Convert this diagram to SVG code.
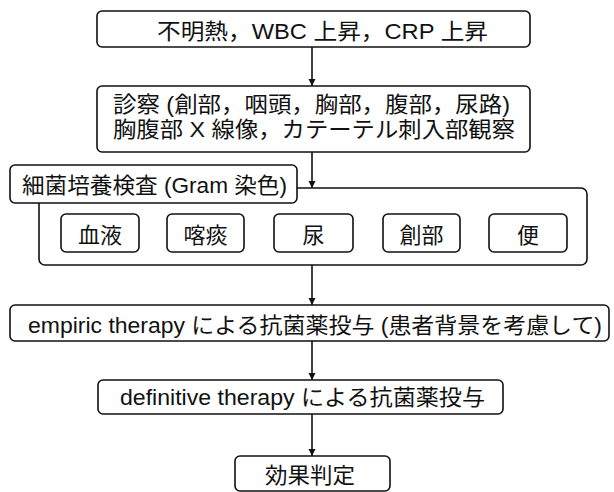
<svg xmlns="http://www.w3.org/2000/svg" width="614" height="492" viewBox="0 0 614 492">
<style>
.box{fill:#fff;stroke:#111;stroke-width:1.6}
.t{font-family:"Liberation Sans","Noto Sans CJK JP",sans-serif;font-size:22px;fill:#111}
.c{text-anchor:middle}
.ln{stroke:#111;stroke-width:1.6;fill:none}
</style>
<defs>
<marker id="ah" viewBox="0 0 10 10" refX="10" refY="5" markerWidth="7" markerHeight="9" markerUnits="userSpaceOnUse" orient="auto">
<path d="M0,0 L10,5 L0,10 Z" fill="#111"/>
</marker>
</defs>
<rect width="614" height="492" fill="#fff"/>
<g id="connectors">
<line class="ln" x1="312" y1="47" x2="312" y2="86" marker-end="url(#ah)"/>
<line class="ln" x1="312" y1="152" x2="312" y2="188" marker-end="url(#ah)"/>
<line class="ln" x1="312" y1="265" x2="312" y2="305" marker-end="url(#ah)"/>
<line class="ln" x1="312" y1="341" x2="312" y2="380" marker-end="url(#ah)"/>
<line class="ln" x1="312" y1="414" x2="312" y2="456" marker-end="url(#ah)"/>
</g>
<g id="n1">
<rect class="box" x="97" y="11" width="433" height="36" rx="5"/>
<text class="t" x="157" y="39" textLength="331" lengthAdjust="spacingAndGlyphs">不明熱，WBC 上昇，CRP 上昇</text>
</g>
<g id="n2">
<rect class="box" x="97" y="86" width="433" height="66" rx="5"/>
<text class="t" x="113" y="112" textLength="397" lengthAdjust="spacingAndGlyphs">診察 (創部，咽頭，胸部，腹部，尿路)</text>
<text class="t" x="113" y="137" textLength="402" lengthAdjust="spacingAndGlyphs">胸腹部 X 線像，カテーテル刺入部観察</text>
</g>
<g id="culture">
<rect class="box" x="39" y="188" width="548" height="77" rx="6"/>
<rect class="box" x="10" y="165" width="287" height="38" rx="5"/>
<text class="t" x="22" y="193" textLength="265" lengthAdjust="spacingAndGlyphs">細菌培養検査 (Gram 染色)</text>
</g>
<g id="s1">
<rect class="box" x="61" y="214" width="78" height="38" rx="5"/>
<text class="t c" x="100" y="243">血液</text>
</g>
<g id="s2">
<rect class="box" x="167" y="214" width="77" height="38" rx="5"/>
<text class="t c" x="205.5" y="243">喀痰</text>
</g>
<g id="s3">
<rect class="box" x="274" y="214" width="79" height="38" rx="5"/>
<text class="t c" x="313.5" y="243">尿</text>
</g>
<g id="s4">
<rect class="box" x="383" y="214" width="77" height="38" rx="5"/>
<text class="t c" x="421.5" y="243">創部</text>
</g>
<g id="s5">
<rect class="box" x="489" y="214" width="78" height="38" rx="5"/>
<text class="t c" x="528" y="243">便</text>
</g>
<g id="n3">
<rect class="box" x="10" y="305" width="599" height="36" rx="5"/>
<text class="t" x="28" y="333" textLength="574" lengthAdjust="spacingAndGlyphs">empiric therapy による抗菌薬投与 (患者背景を考慮して)</text>
</g>
<g id="n4">
<rect class="box" x="98" y="380" width="405" height="34" rx="5"/>
<text class="t" x="120" y="405" textLength="365" lengthAdjust="spacingAndGlyphs">definitive therapy による抗菌薬投与</text>
</g>
<g id="n5">
<rect class="box" x="235" y="456" width="155" height="35" rx="5"/>
<text class="t" x="265" y="483" textLength="90" lengthAdjust="spacingAndGlyphs">効果判定</text>
</g>
</svg>
